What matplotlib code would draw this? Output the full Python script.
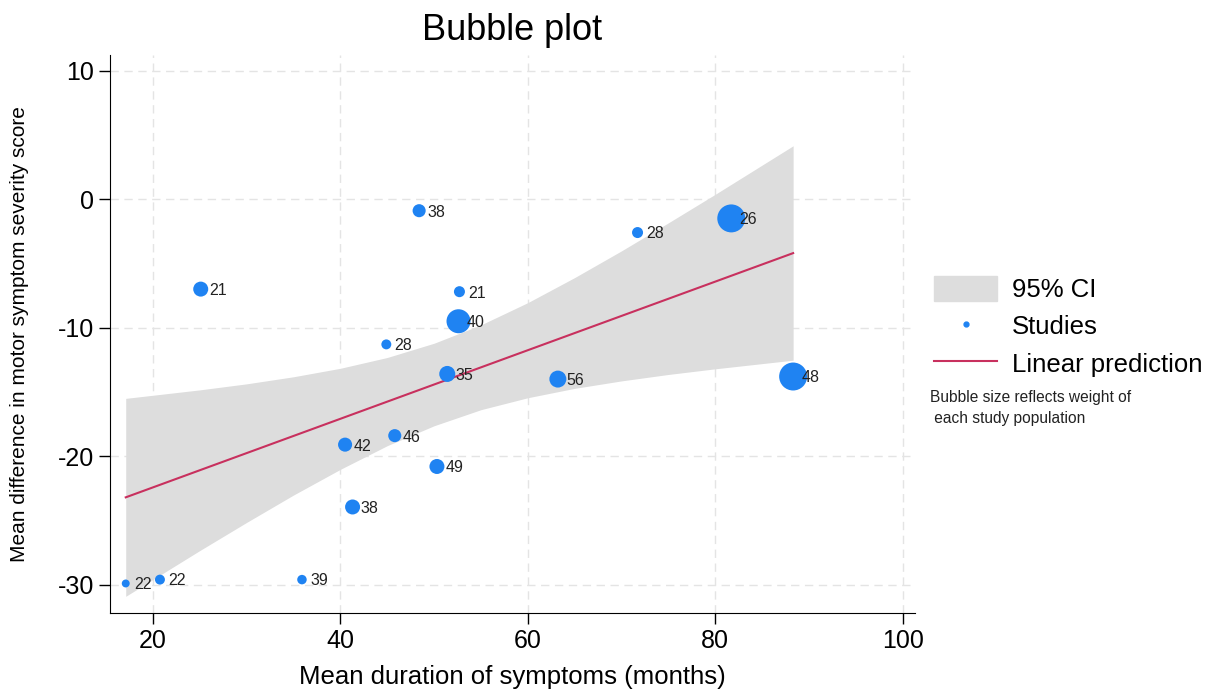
import matplotlib.pyplot as plt
import matplotlib.patches as mpatches
from matplotlib.lines import Line2D

plt.rcParams['font.family'] = ['Liberation Sans', 'DejaVu Sans']
plt.rcParams['axes.unicode_minus'] = False

# study-level data: mean duration (months), mean difference, weight (%), label
duration = [25.1, 48.4, 71.7, 81.7, 52.7, 52.6, 44.9, 51.4, 63.2, 88.3,
            40.5, 45.8, 50.3, 41.3, 17.1, 20.75, 35.9]
difference = [-7.0, -0.9, -2.6, -1.5, -7.2, -9.5, -11.3, -13.6, -14.0, -13.8,
              -19.1, -18.4, -20.8, -23.95, -29.9, -29.6, -29.6]
weight = [5.0, 3.8, 2.7, 17.4, 2.7, 12.8, 2.2, 5.7, 6.4, 17.4,
          4.4, 3.8, 5.0, 5.0, 1.4, 2.2, 2.0]
labels = ['21', '38', '28', '26', '21', '40', '28', '35', '56', '48',
          '42', '46', '49', '38', '22', '22', '39']

# fitted line and 95% confidence band
fit_x = [17.1, 88.3]
fit_y = [-23.2, -4.2]
ci_x = [17.1, 25, 30, 35, 40, 45, 50, 55, 60, 65, 70, 75, 80, 88.3]
ci_upper = [-15.5, -14.84, -14.37, -13.82, -13.16, -12.32, -11.21, -9.78,
            -8.05, -6.10, -4.02, -1.84, 0.38, 4.15]
ci_lower = [-30.9, -27.34, -25.15, -23.02, -21.02, -19.18, -17.63, -16.38,
            -15.45, -14.72, -14.14, -13.64, -13.20, -12.53]

blue = '#1f83f2'
red = '#c8305e'
band = '#dddddd'

fig = plt.figure(figsize=(12.2, 6.93), dpi=100)
ax = fig.add_axes([0.090, 0.1154, 0.660, 0.805])

ax.fill_between(ci_x, ci_lower, ci_upper, color=band, lw=0, zorder=1)
ax.scatter(duration, difference, s=[w * 23.3 for w in weight], color=blue,
           edgecolors='none', zorder=3)
ax.plot(fit_x, fit_y, color=red, lw=1.5, zorder=2)

for x, y, t in zip(duration, difference, labels):
    ax.annotate(t, (x, y), xytext=(6, -1), textcoords='offset points',
                va='center', ha='left', fontsize=11.5, color='#222222', zorder=4)

ax.set_xlim(15.4, 101.3)
ax.set_ylim(-32.2, 11.2)
ax.set_xticks([20, 40, 60, 80, 100])
ax.set_yticks([10, 0, -10, -20, -30])
ax.grid(True, color='#e4e4e4', ls=(0, (6, 4)), lw=1)
ax.set_axisbelow(True)
for s in ['top', 'right']:
    ax.spines[s].set_visible(False)
ax.tick_params(axis='both', labelsize=18, length=8, width=1, direction='out')

ax.set_title('Bubble plot', fontsize=26, pad=11)
ax.set_xlabel('Mean duration of symptoms (months)', fontsize=18.5)
ax.set_ylabel('Mean difference in motor symptom severity score', fontsize=15)
ax.xaxis.set_label_coords(0.5, -0.093)
ax.yaxis.set_label_coords(-0.10, 0.5)

handles = [mpatches.Patch(color=band, label='95% CI'),
           Line2D([], [], marker='o', ls='none', color=blue, markersize=3.5,
                  label='Studies'),
           Line2D([], [], color=red, lw=1.5, label='Linear prediction')]
fig.legend(handles=handles, loc='upper left', bbox_to_anchor=(0.747, 0.635),
           frameon=False, fontsize=18.5, handlelength=2.45, handleheight=1.09,
           handletextpad=0.58, labelspacing=0.44)
fig.text(0.762, 0.437, 'Bubble size reflects weight of\n each study population',
         fontsize=11.2, va='top', ha='left', color='#222222', linespacing=1.5)

fig.savefig('out.png', dpi=100)
